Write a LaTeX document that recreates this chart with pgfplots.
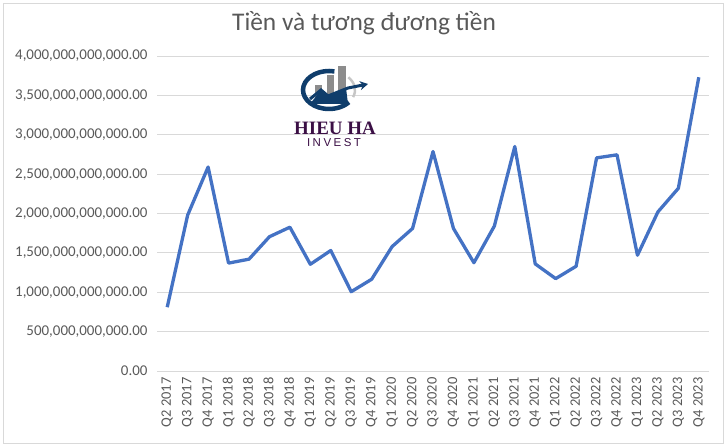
\documentclass[border=0pt]{standalone}
\usepackage{fontspec}
\setmainfont{Carlito}
\newfontfamily\logoserif{Liberation Serif}
\newfontfamily\investfont[LetterSpace=22]{Liberation Sans}
\usepackage{pgfplots}
\pgfplotsset{compat=1.18}
\usetikzlibrary{arrows.meta}
\definecolor{lineblue}{HTML}{4472C4}
\definecolor{txtgray}{HTML}{595959}
\definecolor{gridgray}{HTML}{D9D9D9}
\definecolor{logoblue}{HTML}{0F3D6B}
\definecolor{logopurple}{HTML}{3B0F45}
\definecolor{bargray}{HTML}{8C8C8C}
\begin{document}
\begin{tikzpicture}[x=1bp,y=1bp]
\useasboundingbox (0,0) rectangle (726,447);
\draw[gridgray] (3,4) rectangle (723,444);
\node[text=txtgray, font=\fontsize{25.5}{30}\selectfont] at (364,424) {Tiền và tương đương tiền};
\begin{axis}[at={(157bp,76bp)}, anchor=south west, scale only axis,
  width=552bp, height=315bp,
  xmin=-0.5, xmax=26.5, ymin=0, ymax=4000000000000,
  scaled y ticks=false,
  axis line style={draw=none},
  major tick length=0pt,
  ymajorgrids, grid style={gridgray, line width=0.8bp},
  ytick={0,500000000000,1000000000000,1500000000000,2000000000000,2500000000000,3000000000000,3500000000000,4000000000000},
  yticklabels={{0.00},{500,000,000,000.00},{1,000,000,000,000.00},{1,500,000,000,000.00},{2,000,000,000,000.00},{2,500,000,000,000.00},{3,000,000,000,000.00},{3,500,000,000,000.00},{4,000,000,000,000.00}},
  xtick={0,...,26},
  xticklabels={Q2 2017,Q3 2017,Q4 2017,Q1 2018,Q2 2018,Q3 2018,Q4 2018,Q1 2019,Q2 2019,Q3 2019,Q4 2019,Q1 2020,Q2 2020,Q3 2020,Q4 2020,Q1 2021,Q2 2021,Q3 2021,Q4 2021,Q1 2022,Q2 2022,Q3 2022,Q4 2022,Q1 2023,Q2 2023,Q3 2023,Q4 2023},
  tick label style={text=txtgray},
  yticklabel style={anchor=east, xshift=-6bp, font=\fontsize{15}{17}\selectfont},
  xticklabel style={rotate=90, anchor=east, xshift=-3bp, font=\fontsize{14.5}{17}\selectfont},
  clip=false,
]
\addplot[lineblue, line width=3.3bp, line join=round] coordinates {
(0,810000000000) (1,1980000000000) (2,2590000000000) (3,1370000000000)
(4,1420000000000) (5,1705000000000) (6,1826000000000) (7,1355000000000)
(8,1530000000000) (9,1007000000000) (10,1165000000000) (11,1580000000000)
(12,1810000000000) (13,2787000000000) (14,1810000000000) (15,1375000000000)
(16,1840000000000) (17,2850000000000) (18,1360000000000) (19,1173000000000)
(20,1330000000000) (21,2706000000000) (22,2745000000000) (23,1470000000000)
(24,2020000000000) (25,2320000000000) (26,3730000000000)
};
\end{axis}
% logo
\draw[logoblue, line width=4.5bp] (329,357) ++(78:26 and 19) arc[start angle=78, end angle=320, x radius=26, y radius=19];
\draw[gray!45, line width=2.5bp] (329,357) ++(-22:26 and 19) arc[start angle=-22, end angle=42, x radius=26, y radius=19];
\fill[bargray] (315,343) rectangle (322,362);
\fill[bargray] (327,343) rectangle (334,372);
\fill[bargray] (338,343) rectangle (346,381);
\fill[logoblue] (310,343) -- (321,357) -- (328,351) -- (346,359) -- (348,343) -- cycle;
\draw[logoblue, line width=3bp, -{Stealth[length=8bp,width=9bp]}] (310,348) -- (321,357) -- (328,351) -- (348,359) -- (368,363);
\node[text=logopurple, font=\logoserif\bfseries\fontsize{19}{22}\selectfont] at (335,319) {HIEU HA};
\node[text=logopurple, font=\investfont\fontsize{11.5}{14}\selectfont] at (334,304) {INVEST};
\end{tikzpicture}
\end{document}
